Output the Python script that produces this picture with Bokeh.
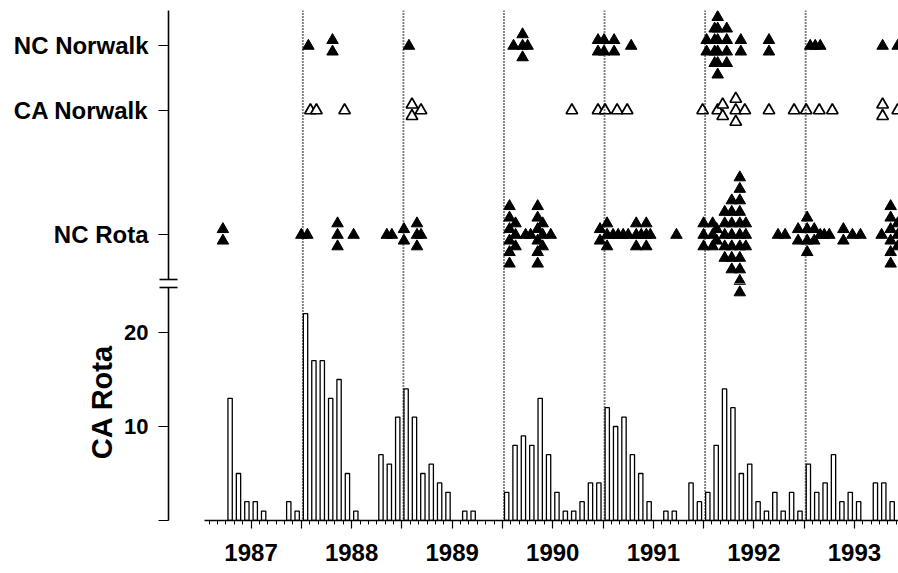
from bokeh.plotting import figure
from bokeh.models import Range1d, FixedTicker, Span
from bokeh.layouts import column
from bokeh.embed import file_html
from bokeh.resources import INLINE

# ---------------- data ----------------
# CA Rota: monthly counts, Jan 1987 .. Dec 1993
ca_rota_start_year = 1987
ca_rota_monthly = [
    0, 0, 0, 13, 5, 2, 2, 1, 0, 0, 2, 1,        # 1987
    22, 17, 17, 13, 15, 5, 1, 0, 0, 7, 6, 11,   # 1988
    14, 11, 5, 6, 4, 3, 0, 1, 1, 0, 0, 0,       # 1989
    3, 8, 9, 8, 13, 7, 3, 1, 1, 2, 4, 4,        # 1990
    12, 10, 11, 7, 5, 2, 0, 1, 1, 0, 4, 2,      # 1991
    3, 8, 14, 12, 5, 6, 2, 1, 3, 1, 3, 1,       # 1992
    6, 3, 4, 7, 2, 3, 2, 0, 4, 4, 2, 0,         # 1993
]

# outbreak dates (decimal years) and number of outbreaks at that date
nc_norwalk_dates = [1988.07, 1988.31, 1989.07, 1990.11, 1990.20, 1990.25, 1990.95, 1991.01,
                    1991.11, 1991.28, 1992.03, 1992.11, 1992.14, 1992.23, 1992.37, 1992.65,
                    1993.06, 1993.11, 1993.16, 1993.78, 1993.93]
nc_norwalk_n = [1, 2, 1, 1, 3, 1, 2, 2, 2, 1, 2, 4, 6, 4, 2, 2, 1, 1, 1, 1, 1]

ca_norwalk_dates = [1988.09, 1988.15, 1988.43, 1989.10, 1989.19, 1990.69, 1990.95, 1991.02,
                    1991.14, 1991.24, 1991.99, 1992.14, 1992.19, 1992.32, 1992.41, 1992.65,
                    1992.90, 1993.02, 1993.15, 1993.28, 1993.78, 1993.93]
ca_norwalk_n = [1, 1, 1, 2, 1, 1, 1, 1, 1, 1, 1, 1, 2, 3, 1, 1, 1, 1, 1, 1, 2, 1]

nc_rota_dates = [1987.22, 1988.00, 1988.06, 1988.36, 1988.52, 1988.85, 1988.90, 1989.02,
                 1989.15, 1989.19,
                 1990.07, 1990.13, 1990.23, 1990.28, 1990.35, 1990.40, 1990.48,
                 1990.97, 1991.04, 1991.10, 1991.15, 1991.20, 1991.25, 1991.33, 1991.38,
                 1991.43, 1991.47, 1991.73,
                 1992.00, 1992.09, 1992.13, 1992.21, 1992.28, 1992.36, 1992.42,
                 1992.74, 1992.81, 1992.94, 1993.03, 1993.10, 1993.16, 1993.20, 1993.25,
                 1993.39, 1993.48, 1993.56, 1993.77, 1993.86, 1993.93]
nc_rota_n = [2, 1, 1, 3, 1, 1, 1, 2, 3, 1,
             6, 3, 1, 1, 6, 3, 1,
             2, 3, 1, 1, 1, 1, 3, 1, 3, 1, 1,
             3, 3, 2, 5, 7, 11, 3,
             1, 1, 2, 4, 2, 1, 1, 1, 2, 1, 1, 1, 6, 3]

season_starts = [1988, 1989, 1990, 1991, 1992, 1993]
year_labels = ["1987", "1988", "1989", "1990", "1991", "1992", "1993"]
row_names = ["NC Norwalk", "CA Norwalk", "NC Rota"]
count_ticks = [0, 10, 20]

# ---------------- layout constants ----------------
FONT = "Liberation Sans"
LOWER_TOP = 25.21          # top of lower (count) panel, in count units
UPPER_TOP = 54.25
ROW_Y = [50.48, 43.62, 30.37]
STACK = 1.223              # vertical spacing of stacked triangles
LOWER_AXIS_TOP = 24.79
UPPER_AXIS_BOTTOM = 25.64

x_range = Range1d(1986.679, 1993.938)


def stack(dates, counts, y0):
    xs, ys = [], []
    for d, n in zip(dates, counts):
        for i in range(n):
            xs.append(d)
            ys.append(y0 + ((n - 1) / 2 - i) * STACK)
    return xs, ys


def base_style(p):
    p.grid.visible = False
    p.outline_line_color = None
    p.background_fill_color = "white"
    p.border_fill_color = "white"


def add_seasons(p):
    for s in season_starts:
        p.add_layout(Span(location=s + 0.015, dimension="height", line_color="black",
                          line_dash="1 2", line_width=1.9))


# ---------------- upper panel ----------------
up = figure(width=898, height=283, x_range=x_range, y_range=Range1d(LOWER_TOP, UPPER_TOP),
            output_backend="svg", toolbar_location=None, x_axis_location=None,
            min_border_left=168, min_border_right=0, min_border_top=10, min_border_bottom=0)
base_style(up)

ya = up.yaxis[0]
ya.ticker = FixedTicker(ticks=ROW_Y, minor_ticks=[UPPER_AXIS_BOTTOM + 0.02])
ya.major_label_overrides = {y: name for y, name in zip(ROW_Y, row_names)}
ya.bounds = (UPPER_AXIS_BOTTOM, UPPER_TOP)
ya.major_tick_out = 10
ya.major_tick_in = 0
ya.minor_tick_out = 9
ya.minor_tick_in = 9
ya.axis_line_width = 1.6
ya.axis_line_color = "black"
ya.major_tick_line_width = 1.2
ya.minor_tick_line_width = 1.6
ya.major_label_text_font = FONT
ya.major_label_text_font_style = "bold"
ya.major_label_text_font_size = "24px"
ya.major_label_text_color = "black"
ya.major_label_standoff = 10

add_seasons(up)

x1, y1 = stack(nc_norwalk_dates, nc_norwalk_n, ROW_Y[0])
up.scatter(x1, y1, marker="triangle", size=11.5, fill_color="black", line_color="black", line_width=1)
x2, y2 = stack(ca_norwalk_dates, ca_norwalk_n, ROW_Y[1])
up.scatter(x2, y2, marker="triangle", size=11.5, fill_color="white", line_color="black", line_width=1.7)
x3, y3 = stack(nc_rota_dates, nc_rota_n, ROW_Y[2])
up.scatter(x3, y3, marker="triangle", size=11.5, fill_color="black", line_color="black", line_width=1)

# ---------------- lower panel ----------------
lo = figure(width=898, height=287, x_range=x_range, y_range=Range1d(0, LOWER_TOP),
            output_backend="svg", toolbar_location=None,
            min_border_left=168, min_border_right=0, min_border_top=0, min_border_bottom=50)
base_style(lo)

bar_x, bar_top = [], []
for m, v in enumerate(ca_rota_monthly):
    if v > 0:
        bar_x.append(ca_rota_start_year + (m + 0.5) / 12)
        bar_top.append(v)
lo.vbar(x=bar_x, top=bar_top, bottom=0, width=0.043, fill_color="white",
        line_color="black", line_width=1.3)

add_seasons(lo)

lo.scatter(x3, y3, marker="triangle", size=11.5, fill_color="black", line_color="black", line_width=1)

la = lo.yaxis[0]
la.ticker = FixedTicker(ticks=count_ticks, minor_ticks=[LOWER_AXIS_TOP - 0.02])
la.major_label_overrides = {0: ""}
la.bounds = (0, LOWER_AXIS_TOP)
la.major_tick_out = 10
la.major_tick_in = 0
la.minor_tick_out = 9
la.minor_tick_in = 9
la.axis_line_width = 1.6
la.axis_line_color = "black"
la.major_tick_line_width = 1.2
la.minor_tick_line_width = 1.6
la.major_label_text_font = FONT
la.major_label_text_font_style = "bold"
la.major_label_text_font_size = "22px"
la.major_label_text_color = "black"
la.major_label_standoff = 10
la.axis_label = "CA Rota"
la.axis_label_text_font = FONT
la.axis_label_text_font_style = "bold"
la.axis_label_text_font_size = "29px"
la.axis_label_text_color = "black"
la.axis_label_standoff = 3

half_years = [1987.5 + 0.5 * k for k in range(14)]
overrides = {}
for t in half_years:
    if t % 1 == 0.5:
        overrides[t] = year_labels[int(t) - 1987]
    else:
        overrides[t] = ""
months = [1987 + k / 12 for k in range(1, 84) if k % 6 != 0]

xa = lo.xaxis[0]
xa.ticker = FixedTicker(ticks=half_years, minor_ticks=months)
xa.major_label_overrides = overrides
xa.bounds = (1987.035, 1993.938)
xa.major_tick_out = 8
xa.major_tick_in = 0
xa.minor_tick_out = 4
xa.minor_tick_in = 0
xa.axis_line_width = 1.6
xa.axis_line_color = "black"
xa.major_tick_line_width = 1.2
xa.minor_tick_line_width = 1
xa.major_label_text_font = FONT
xa.major_label_text_font_style = "bold"
xa.major_label_text_font_size = "24px"
xa.major_label_text_color = "black"
xa.major_label_standoff = 15

layout = column(up, lo, spacing=0)
open("out.html", "w").write(file_html(layout, INLINE))
